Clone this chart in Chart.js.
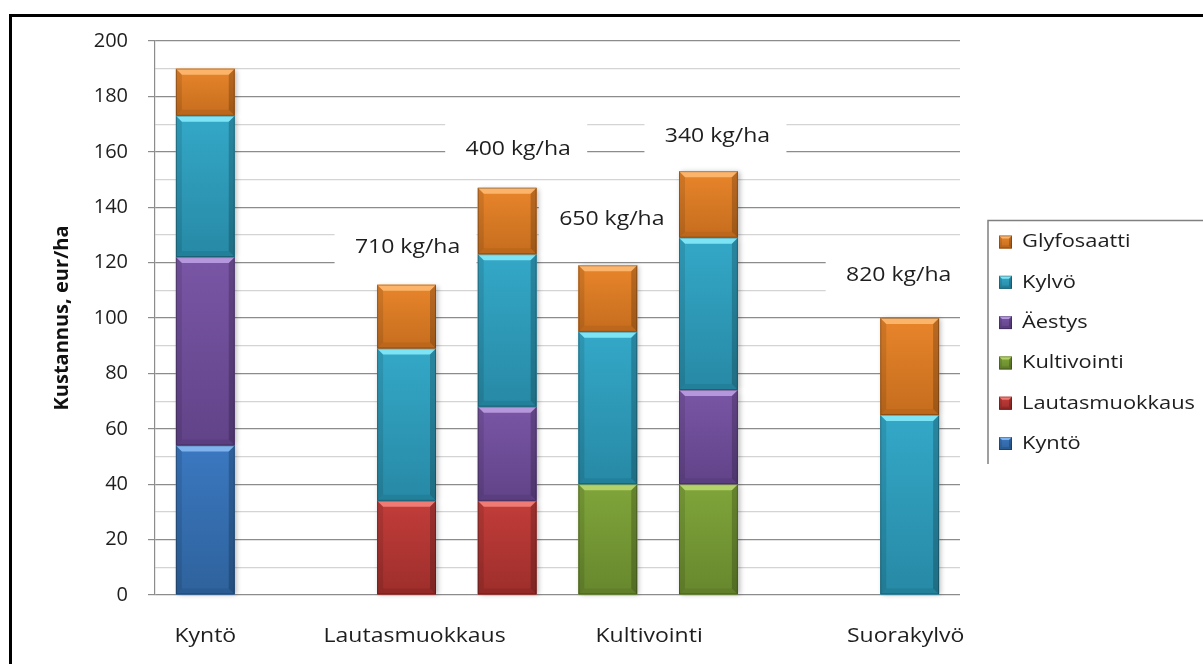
<!DOCTYPE html>
<html>
<head>
<meta charset="utf-8">
<title>Kustannukset</title>
<script src="https://cdn.jsdelivr.net/npm/chart.js@4.4.1/dist/chart.umd.min.js"></script>
<style>
  html, body { margin: 0; padding: 0; background: #fff; }
  canvas { display: block; }
</style>
</head>
<body>
<canvas id="costChart" width="1203" height="664"></canvas>
<script>
// --- data -------------------------------------------------------------
const groups = ['Kyntö', 'Lautasmuokkaus', 'Kultivointi', 'Suorakylvö'];
// which group each bar slot belongs to (null = empty gap slot)
const slotGroup = [0, null, 1, 1, 2, 2, null, 3];
const rates = [null, null, '710 kg/ha', '400 kg/ha', '650 kg/ha', '340 kg/ha', null, '820 kg/ha'];

const kynto          = [54, null, null, null, null, null, null, null];
const lautasmuokkaus = [null, null, 34, 34, null, null, null, null];
const kultivointi    = [null, null, null, null, 40, 40, null, null];
const aestys         = [68, null, null, 34, null, 34, null, null];
const kylvo          = [51, null, 55, 55, 55, 55, null, 65];
const glyfosaatti    = [17, null, 23, 24, 24, 24, null, 35];

const yMin = 0, yMax = 200, yStep = 10, yLabelStep = 20;

// --- styling ----------------------------------------------------------
// [face, bevel light, bevel dark]
const palette = {
  'Kyntö':          ['#3b78c0', '#7fb3ee', '#23507f'],
  'Lautasmuokkaus': ['#c23d3a', '#f07a74', '#7f211f'],
  'Kultivointi':    ['#80a53b', '#b3d36a', '#536e22'],
  'Äestys':         ['#7a56a6', '#b497dc', '#4d3470'],
  'Kylvö':          ['#34a8c8', '#7de4f6', '#1c6f88'],
  'Glyfosaatti':    ['#e8852b', '#fbb46a', '#a95a14'],
};
const FONT = '"Open Sans", "Noto Sans", sans-serif';
const STRETCH = 1.15;
// slot position (in category units) where each group label is centred
const groupAnchor = [0, 2.08, 4.41, 6.96];
// text box placement for the rate labels: x offset (px) from bar, y in axis units
const ratePlace = { 2: [1, 125.5], 3: [11, 161], 4: [4, 135.5], 5: [9, 165.5], 7: [-11, 115.5] };

const series = [
  { label: 'Kyntö', data: kynto },
  { label: 'Lautasmuokkaus', data: lautasmuokkaus },
  { label: 'Kultivointi', data: kultivointi },
  { label: 'Äestys', data: aestys },
  { label: 'Kylvö', data: kylvo },
  { label: 'Glyfosaatti', data: glyfosaatti },
];

function mix(a, b, t) {
  const p = (h) => [1, 3, 5].map((i) => parseInt(h.slice(i, i + 2), 16));
  const A = p(a), B = p(b);
  return 'rgb(' + A.map((v, i) => Math.round(v + (B[i] - v) * t)).join(',') + ')';
}

function stretchedText(ctx, text, x, y, align, font) {
  ctx.save();
  ctx.font = font;
  ctx.fillStyle = '#1e1e1e';
  ctx.textAlign = align;
  ctx.textBaseline = 'middle';
  ctx.translate(x, y);
  ctx.scale(STRETCH, 1);
  ctx.fillText(text, 0, 0);
  ctx.restore();
}

// beveled block, used for bar segments and legend swatches
function bevelRect(ctx, l, t, r, b, colors, edge) {
  const [face, light, dark] = colors;
  const e = Math.min(edge, (b - t) / 3, (r - l) / 3);
  const g = ctx.createLinearGradient(0, t, 0, b);
  g.addColorStop(0, face);
  g.addColorStop(1, mix(face, dark, 0.55));
  ctx.fillStyle = g;
  ctx.fillRect(l, t, r - l, b - t);

  const quad = (pts, fill) => {
    ctx.beginPath();
    ctx.moveTo(pts[0][0], pts[0][1]);
    for (let k = 1; k < pts.length; k++) ctx.lineTo(pts[k][0], pts[k][1]);
    ctx.closePath();
    ctx.fillStyle = fill;
    ctx.fill();
  };
  quad([[l, t], [r, t], [r - e, t + e], [l + e, t + e]], light);
  quad([[l, b], [r, b], [r - e, b - e], [l + e, b - e]], mix(dark, face, 0.3));
  quad([[l, t], [l + e, t + e], [l + e, b - e], [l, b]], 'rgba(0,0,0,0.10)');
  quad([[r, t], [r - e, t + e], [r - e, b - e], [r, b]], 'rgba(0,0,0,0.20)');
  ctx.strokeStyle = 'rgba(0,0,0,0.25)';
  ctx.lineWidth = 1;
  ctx.strokeRect(l + 0.5, t + 0.5, r - l - 1, b - t - 1);
}

function eachSegment(chart, fn) {
  chart.data.datasets.forEach((ds, i) => {
    const meta = chart.getDatasetMeta(i);
    meta.data.forEach((bar, j) => {
      if (ds.data[j] == null) return;
      const { x, y, base, width } = bar.getProps(['x', 'y', 'base', 'width'], true);
      fn(ds, j, x - width / 2, Math.min(y, base), x + width / 2, Math.max(y, base));
    });
  });
}

const decorations = {
  id: 'decorations',
  beforeDatasetsDraw(chart) {
    const { ctx, scales } = chart;
    // white text boxes for the rate labels sit over the gridlines
    rates.forEach((txt, i) => {
      if (!txt) return;
      const [dx, v] = ratePlace[i];
      const cx = scales.x.getPixelForValue(i) + dx;
      const cy = scales.y.getPixelForValue(v);
      ctx.fillStyle = '#fff';
      ctx.fillRect(cx - 73, cy - 27, 142, 54);
      stretchedText(ctx, txt, cx, cy, 'center', '20px ' + FONT);
    });
    // soft drop shadow under each bar
    ctx.save();
    ctx.shadowColor = 'rgba(0,0,0,0.28)';
    ctx.shadowBlur = 5;
    ctx.shadowOffsetX = 2;
    ctx.shadowOffsetY = 1;
    eachSegment(chart, (ds, j, l, t, r, b) => {
      if (b - t < 1) return;
      ctx.fillStyle = '#fff';
      ctx.fillRect(l, t, r - l, b - t);
    });
    ctx.restore();
  },
  afterDatasetsDraw(chart) {
    const { ctx } = chart;
    eachSegment(chart, (ds, j, l, t, r, b) => {
      if (b - t < 1) return;
      bevelRect(ctx, l, t, r, b, palette[ds.label], 6);
    });
  },
  afterDraw(chart) {
    const { ctx, scales, chartArea } = chart;
    // group labels under the bars
    groups.forEach((name, gi) => {
      const cx = scales.x.getPixelForValue(groupAnchor[gi]);
      stretchedText(ctx, name, cx, chartArea.bottom + 41, 'center', '20px ' + FONT);
    });

    // legend box, top to bottom in reverse stacking order
    ctx.save();
    ctx.strokeStyle = '#808080';
    ctx.lineWidth = 1.5;
    ctx.beginPath();
    ctx.moveTo(988, 464);
    ctx.lineTo(988, 220.5);
    ctx.lineTo(1203, 220.5);
    ctx.stroke();
    ctx.restore();
    series.slice().reverse().forEach((s, k) => {
      const cy = 242 + k * 40.3;
      bevelRect(ctx, 999, cy - 6.5, 1012, cy + 6.5, palette[s.label], 3);
      stretchedText(ctx, s.label, 1022, cy, 'left', '19px ' + FONT);
    });

    // outer frame (top and left edges)
    ctx.save();
    ctx.fillStyle = '#000';
    ctx.fillRect(9, 14, 1194, 3);
    ctx.fillRect(9, 14, 3, 650);
    ctx.restore();
  },
};

new Chart(document.getElementById('costChart'), {
  type: 'bar',
  data: {
    labels: slotGroup.map((g) => (g === null ? '' : groups[g])),
    datasets: series.map((s) => ({
      label: s.label,
      data: s.data,
      backgroundColor: palette[s.label][0],
      borderWidth: 0,
      categoryPercentage: 1,
      barPercentage: 0.585,
    })),
  },
  options: {
    responsive: false,
    animation: false,
    layout: { padding: { left: 40, top: 41, right: 243, bottom: 61 } },
    plugins: {
      legend: { display: false },
      tooltip: { enabled: false },
    },
    scales: {
      x: {
        stacked: true,
        grid: { display: false },
        border: { display: false },
        ticks: { display: false },
      },
      y: {
        stacked: true,
        min: yMin,
        max: yMax,
        afterFit: (scale) => { scale.width = 115; },
        ticks: {
          stepSize: yStep,
          padding: 20,
          color: '#1e1e1e',
          font: { family: FONT, size: 20 },
          callback: (v) => (v % yLabelStep === 0 ? v : ''),
        },
        grid: {
          color: (c) => (c.tick && c.tick.value % yLabelStep === 0 ? '#8c8c8c' : '#d4d4d4'),
          tickColor: (c) => (c.tick && c.tick.value % yLabelStep === 0 ? '#8c8c8c' : 'rgba(0,0,0,0)'),
          tickLength: 7,
          lineWidth: 1.2,
        },
        border: { color: '#8c8c8c', width: 1.2 },
        title: {
          display: true,
          text: 'Kustannus, eur/ha',
          color: '#111',
          font: { family: FONT, size: 20, weight: 'bold' },
          padding: { top: 10, bottom: 4 },
        },
      },
    },
  },
  plugins: [decorations],
});
</script>
</body>
</html>
